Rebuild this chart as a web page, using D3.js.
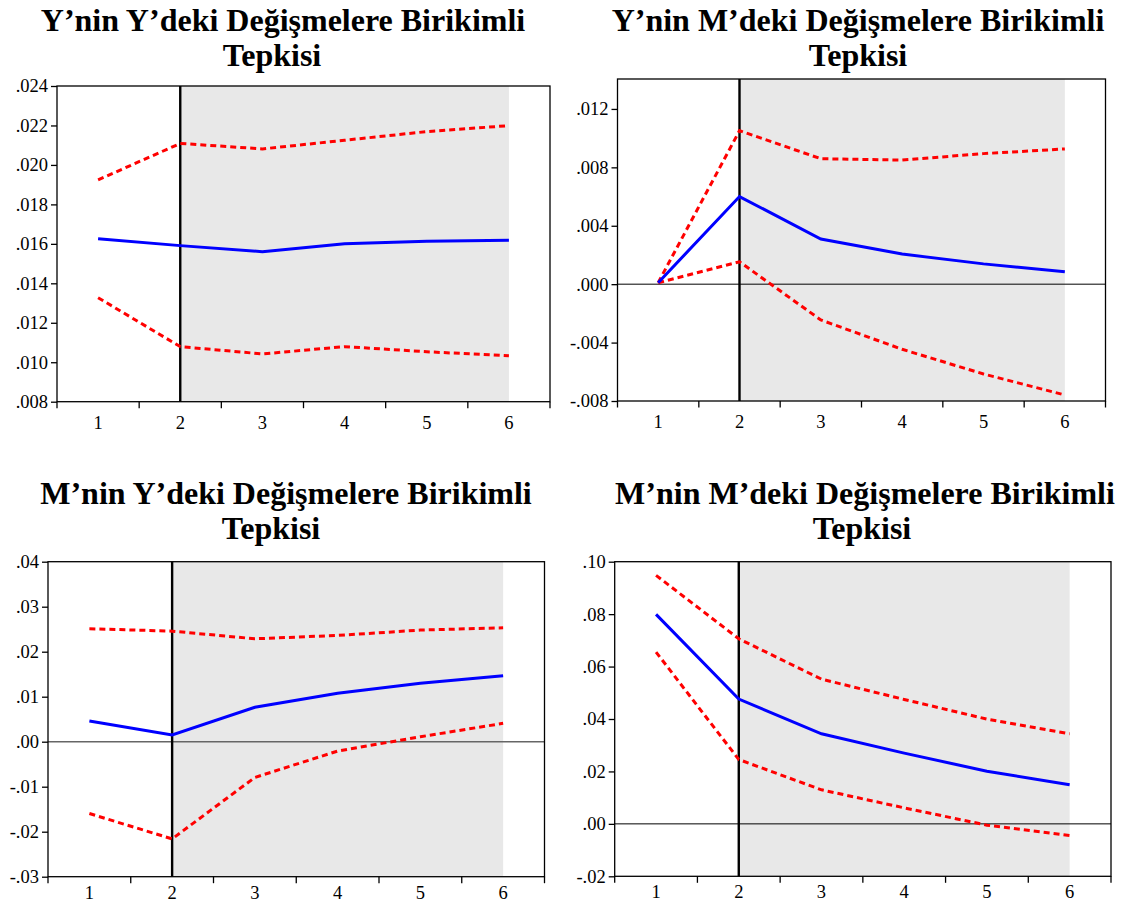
<!DOCTYPE html>
<html>
<head>
<meta charset="utf-8">
<script src="https://cdn.jsdelivr.net/npm/d3@7"></script>
<style>
  html, body { margin: 0; padding: 0; background: #fff; }
  svg { display: block; }
</style>
</head>
<body>
<svg id="chart" width="1124" height="905"></svg>
<script>
// Horizons (periods) shared by all four panels
const periods = [1, 2, 3, 4, 5, 6];

// Y's accumulated response to Y
const yyResponse = [0.01626, 0.01591, 0.01560, 0.01601, 0.01613, 0.01618];
const yyUpper    = [0.01924, 0.02109, 0.02081, 0.02125, 0.02169, 0.02199];
const yyLower    = [0.01327, 0.01079, 0.01042, 0.01079, 0.01053, 0.01033];

// Y's accumulated response to M
const ymResponse = [0.0001, 0.00600, 0.00309, 0.00206, 0.00139, 0.00085];
const ymUpper    = [0.0001, 0.01051, 0.00859, 0.00850, 0.00894, 0.00926];
const ymLower    = [0.0001, 0.00153, -0.00245, -0.00446, -0.00615, -0.00759];

// M's accumulated response to Y
const myResponse = [0.00460, 0.00148, 0.00765, 0.01076, 0.01300, 0.01463];
const myUpper    = [0.02510, 0.02457, 0.02287, 0.02361, 0.02480, 0.02532];
const myLower    = [-0.01596, -0.02160, -0.00794, -0.00208, 0.00110, 0.00408];

// M's accumulated response to M
const mmResponse = [0.07990, 0.04760, 0.03435, 0.02697, 0.02010, 0.01489];
const mmUpper    = [0.09480, 0.07060, 0.05520, 0.04746, 0.03995, 0.03435];
const mmLower    = [0.06552, 0.02455, 0.01298, 0.00611, -0.00050, -0.00445];

// Y-axis tick values
const yyTicks = [0.008, 0.010, 0.012, 0.014, 0.016, 0.018, 0.020, 0.022, 0.024];
const ymTicks = [-0.008, -0.004, 0.000, 0.004, 0.008, 0.012];
const myTicks = [-0.03, -0.02, -0.01, 0.00, 0.01, 0.02, 0.03, 0.04];
const mmTicks = [-0.02, 0.00, 0.02, 0.04, 0.06, 0.08, 0.10];

// Panel titles (two lines each)
const titles = [
  ["Y\u2019nin Y\u2019deki De\u011Fi\u015Fmelere Birikimli", "Tepkisi"],
  ["Y\u2019nin M\u2019deki De\u011Fi\u015Fmelere Birikimli", "Tepkisi"],
  ["M\u2019nin Y\u2019deki De\u011Fi\u015Fmelere Birikimli", "Tepkisi"],
  ["M\u2019nin M\u2019deki De\u011Fi\u015Fmelere Birikimli", "Tepkisi"]
];

// Panel layout: plot frame, y domain, decimals, title placement
const panels = [
  { title: titles[0], mid: yyResponse, up: yyUpper, lo: yyLower, ticks: yyTicks,
    domain: [0.008, 0.024], dec: 3, zero: false,
    x0: 57, x1: 550, y0: 86, y1: 401.7, labelDy: 27,
    t1x: 283, t2x: 272, t1y: 31, t2y: 66 },
  { title: titles[1], mid: ymResponse, up: ymUpper, lo: ymLower, ticks: ymTicks,
    domain: [-0.008, 0.01405], dec: 3, zero: true, zeroColor: "#000", zeroWidth: 1,
    x0: 617.5, x1: 1105.5, y0: 79, y1: 401, labelDy: 27,
    t1x: 858, t2x: 858, t1y: 31, t2y: 66 },
  { title: titles[2], mid: myResponse, up: myUpper, lo: myLower, ticks: myTicks,
    domain: [-0.03, 0.04], dec: 2, zero: true, zeroColor: "#666", zeroWidth: 1.6,
    x0: 48, x1: 544.5, y0: 561.7, y1: 876.7, labelDy: 22,
    t1x: 286, t2x: 271, t1y: 504, t2y: 539 },
  { title: titles[3], mid: mmResponse, up: mmUpper, lo: mmLower, ticks: mmTicks,
    domain: [-0.02, 0.10], dec: 2, zero: true, zeroColor: "#000", zeroWidth: 1,
    x0: 614.7, x1: 1111, y0: 561.7, y1: 876.3, labelDy: 22,
    t1x: 865, t2x: 862, t1y: 504, t2y: 539 }
];

const svg = d3.select("#chart");
const serif = "'Liberation Serif', 'Times New Roman', Times, serif";

// ".024" / "-.004" style labels: no leading zero, ASCII minus
function fmt(dec) {
  const f = d3.format("." + dec + "f");
  return v => {
    const s = f(Math.abs(v)).replace(/^0\./, ".");
    return (v < 0 && Math.abs(v) > 1e-12 ? "-" : "") + s;
  };
}

panels.forEach(p => {
  const g = svg.append("g");

  const x = d3.scaleBand().domain(periods).range([p.x0, p.x1]).paddingInner(0).paddingOuter(0);
  const cx = d => x(d) + x.bandwidth() / 2;
  const y = d3.scaleLinear().domain(p.domain).range([p.y1, p.y0]);

  // shaded forecast region: from period 2 to period 6
  g.append("rect")
    .attr("x", cx(2)).attr("y", p.y0)
    .attr("width", cx(6) - cx(2)).attr("height", p.y1 - p.y0)
    .attr("fill", "#e8e8e8");

  // zero reference line
  if (p.zero) {
    g.append("line")
      .attr("x1", p.x0).attr("x2", p.x1)
      .attr("y1", y(0)).attr("y2", y(0))
      .attr("stroke", p.zeroColor).attr("stroke-width", p.zeroWidth);
  }

  // vertical marker at period 2
  g.append("line")
    .attr("x1", cx(2)).attr("x2", cx(2))
    .attr("y1", p.y0).attr("y2", p.y1)
    .attr("stroke", "#000").attr("stroke-width", 2.4);

  const line = d3.line().x((d, i) => cx(periods[i])).y(d => y(d));

  // confidence bands
  [p.up, p.lo].forEach(arr => {
    g.append("path")
      .attr("d", line(arr))
      .attr("fill", "none")
      .attr("stroke", "#ff0000")
      .attr("stroke-width", 3)
      .attr("stroke-dasharray", "6,4");
  });

  // point response
  g.append("path")
    .attr("d", line(p.mid))
    .attr("fill", "none")
    .attr("stroke", "#0000ff")
    .attr("stroke-width", 3);

  // frame
  g.append("rect")
    .attr("x", p.x0).attr("y", p.y0)
    .attr("width", p.x1 - p.x0).attr("height", p.y1 - p.y0)
    .attr("fill", "none").attr("stroke", "#000").attr("stroke-width", 1.3);

  // y axis
  const yAxis = d3.axisLeft(y).tickValues(p.ticks).tickFormat(fmt(p.dec))
    .tickSize(6).tickPadding(3);
  const ya = g.append("g").attr("transform", `translate(${p.x0},0)`).call(yAxis);
  ya.attr("font-family", null).attr("font-size", null);
  ya.select(".domain").remove();
  ya.selectAll("line").attr("stroke", "#000").attr("stroke-width", 1.3);
  ya.selectAll("text")
    .style("font-family", serif).style("font-size", "18.5px").attr("fill", "#000");

  // x axis: labels at band centres, ticks at band boundaries
  const xa = g.append("g").attr("transform", `translate(0,${p.y1})`);
  const bounds = periods.map(d => x(d)).concat([x(periods[periods.length - 1]) + x.bandwidth()]);
  xa.selectAll("line.tk").data(bounds).join("line")
    .attr("class", "tk")
    .attr("x1", d => d).attr("x2", d => d)
    .attr("y1", 0).attr("y2", 6.5)
    .attr("stroke", "#000").attr("stroke-width", 1.3);
  xa.selectAll("text").data(periods).join("text")
    .attr("x", d => cx(d)).attr("y", p.labelDy)
    .attr("text-anchor", "middle")
    .style("font-family", serif).style("font-size", "18.5px").attr("fill", "#000")
    .text(d => d);

  // title
  [[p.title[0], p.t1x, p.t1y], [p.title[1], p.t2x, p.t2y]].forEach(([t, tx, ty]) => {
    g.append("text")
      .attr("x", tx).attr("y", ty)
      .attr("text-anchor", "middle")
      .style("font-family", serif).style("font-weight", "bold").style("font-size", "32px")
      .text(t);
  });
});
</script>
</body>
</html>
